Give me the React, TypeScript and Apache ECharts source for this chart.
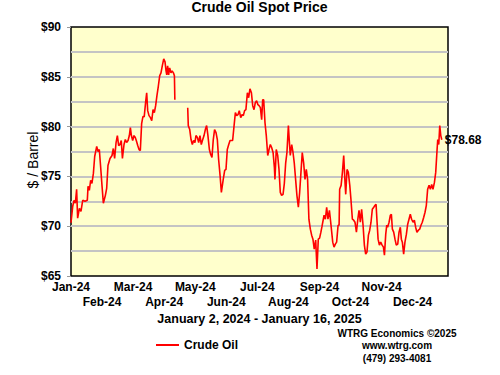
import React, { useEffect, useRef } from 'react';
import * as echarts from 'echarts';

const FONT = '"Liberation Sans", Arial, Helvetica, sans-serif';

const monthLabels = ['Jan-24', 'Feb-24', 'Mar-24', 'Apr-24', 'May-24', 'Jun-24', 'Jul-24', 'Aug-24', 'Sep-24', 'Oct-24', 'Nov-24', 'Dec-24'];
const monthStep = 21.5; // trading days between month labels
const dayMax = 261;

const priceMin = 65;
const priceMax = 90;
const priceStep = 5;

// trading-day position (0 = Jan 2, 2024) and WTI spot price ($/bbl); null = missing data
const tradingDay = [
  0, 1.2, 2.1, 3.0, 3.9, 4.6, 5.8, 6.9, 8.1, 9.7, 11.3, 11.8, 12.7, 13.6, 14.5, 15.5, 16.4, 17.8, 18.7, 19.6,
  20.5, 21.5, 22.4, 23.8, 24.7, 25.6, 27.0, 28.4, 29.3, 30.2, 31.2, 32.1, 33.0, 33.9, 34.8, 35.6, 36.7, 37.6, 38.5, 39.5,
  40.4, 41.1, 41.8, 42.7, 43.6, 44.5, 45.2, 46.2, 47.1, 48.0, 48.9, 49.8, 50.7, 51.7, 52.4, 53.1, 54.0, 55.0, 55.9, 56.8,
  57.7, 58.6, 59.5, 60.5, 61.4, 62.3, 63.2, 64.2, 65.1, 65.8, 66.3, 66.9, 67.6, 68.3, 69.2, 70.0, 70.9, 71.6, 71.9, 76,
  80.8, 81.2, 82.2, 83.1, 84.0, 84.9, 85.8, 86.5, 87.5, 88.4, 89.3, 90.2, 91.2, 92.1, 93.0, 93.9, 94.8, 95.8, 96.7, 97.6,
  98.5, 99.4, 100.4, 101.3, 102.2, 103.2, 104.1, 105.4, 106.4, 107.3, 108.2, 109.2, 110.1, 111.0, 111.9, 112.9, 113.8, 114.7, 115.6, 116.5,
  117.5, 118.4, 119.3, 120.2, 121.1, 122.1, 123.0, 123.9, 124.9, 125.8, 126.7, 127.6, 128.5, 129.4, 130.2, 131.1, 132.0, 132.7, 133.4, 134.3,
  135.2, 136.2, 137.1, 138.0, 138.9, 139.9, 140.8, 141.2, 142.1, 143.1, 144.0, 144.9, 145.8, 146.8, 147.7, 148.6, 149.5, 150.5, 150.9, 151.8,
  152.8, 153.7, 154.6, 155.5, 156.4, 157.4, 158.3, 159.2, 160.1, 161.1, 162.0, 162.9, 163.8, 164.7, 165.7, 166.6, 167.5, 168.4, 169.4, 170.3,
  171.2, 172.1, 173.0, 173.8, 175.2, 176.1, 177.0, 177.9, 178.9, 179.8, 181.2, 182.1, 183.0, 183.9, 184.9, 185.6, 186.0, 187.0, 187.9, 188.8,
  189.7, 190.2, 191.1, 192.0, 193.0, 193.8, 194.8, 195.7, 196.6, 197.6, 198.5, 199.4, 200.3, 201.2, 202.2, 203.1, 204.0, 204.9, 205.9, 206.8,
  207.7, 208.6, 209.6, 210.5, 211.2, 211.9, 212.6, 213.5, 214.4, 215.4, 216.3, 217.0, 217.9, 218.6, 219.2, 220.2, 221.1, 221.8, 222.5, 223.4,
  224.3, 225.2, 226.2, 227.1, 228.0, 228.7, 229.4, 230.3, 231.2, 232.2, 233.1, 234.0, 234.9, 235.8, 236.8, 237.7, 238.6, 239.5, 240.5, 241.4,
  242.3, 243.2, 244.2, 245.1, 246.0, 246.9, 247.9, 248.8, 249.7, 250.6, 251.6, 252.5, 253.4, 253.9, 254.6, 255.3, 256.0, 256.7,
];

const price: (number | null)[] = [
  70.35, 72.0, 72.6, 72.3, 73.7, 70.8, 71.8, 71.5, 72.6, 72.5, 72.6, 74.0, 73.6, 74.6, 74.3, 75.3, 77.0, 78.0, 77.5, 77.7,
  76.0, 74.0, 72.3, 73.1, 73.8, 76.1, 76.8, 77.1, 77.8, 76.8, 78.4, 79.1, 78.1, 78.2, 78.6, 76.8, 78.2, 78.7, 78.4, 78.6,
  79.1, 79.9, 79.1, 78.6, 79.1, 78.9, 78.6, 78.1, 77.7, 77.6, 80.3, 81.0, 81.0, 82.5, 83.4, 81.6, 81.1, 80.9, 80.6, 81.7,
  81.4, 82.1, 83.1, 84.1, 85.1, 85.4, 86.1, 86.8, 86.5, 85.6, 85.2, 86.1, 85.2, 85.9, 85.4, 85.6, 85.4, 85.1, 82.7, null,
  81.9, 80.1, 79.7, 78.7, 78.2, 78.6, 78.4, 79.1, 78.9, 78.4, 79.1, 78.2, 78.7, 79.1, 79.7, 80.1, 79.1, 77.7, 77.2, 76.9,
  78.7, 79.7, 79.4, 78.7, 76.7, 75.1, 73.4, 74.7, 75.6, 75.7, 77.7, 78.2, 78.6, 78.6, 78.6, 80.1, 81.4, 81.1, 81.2, 81.6,
  80.9, 81.2, 81.1, 81.6, 81.7, 83.4, 82.9, 83.8, 83.4, 82.1, 81.7, 82.4, 82.6, 82.2, 82.1, 81.9, 80.7, 82.7, 82.7, 80.4,
  79.1, 77.1, 77.7, 78.2, 77.9, 77.4, 75.9, 74.7, 77.7, 77.1, 75.7, 73.4, 73.1, 73.2, 74.3, 76.3, 77.4, 80.1, 79.1, 77.1,
  78.2, 77.4, 76.3, 74.7, 73.1, 71.9, 73.4, 75.4, 77.4, 76.3, 74.7, 75.7, 74.7, 70.7, 69.7, 69.1, 68.7, 67.7, 68.6, 65.7,
  68.7, 68.8, 69.4, 70.0, 71.1, 70.7, 71.9, 70.7, 71.6, 70.4, 68.4, 67.9, 68.2, 68.4, 70.1, 70.1, 73.7, 74.1, 75.4, 77.1,
  74.4, 73.2, 75.7, 75.4, 74.1, 72.7, 70.7, 70.6, 70.4, 69.4, 70.6, 71.6, 70.4, 71.7, 70.1, 68.1, 67.2, 67.4, 69.1, 69.6,
  70.4, 71.7, 71.9, 72.1, 72.2, 70.4, 68.7, 68.1, 68.4, 68.1, 67.9, 67.1, 69.2, 70.1, 69.9, 70.4, 71.1, 71.2, 69.7, 69.4,
  68.7, 68.1, 68.2, 69.4, 69.9, 68.7, 68.4, 67.2, 68.4, 69.2, 70.2, 70.7, 71.2, 70.7, 70.4, 70.6, 69.9, 69.4, 69.6, 69.7,
  70.1, 70.4, 70.9, 71.4, 72.1, 73.7, 74.1, 73.7, 74.2, 73.7, 74.4, 75.4, 77.6, 78.7, 78.2, 80.1, 79.1, 78.68,
];

const titleText = 'Crude Oil Spot Price';
const dateRangeText = 'January 2, 2024 - January 16, 2025';
const yAxisTitle = '$ / Barrel';
const seriesName = 'Crude Oil';
const creditLines = ['WTRG Economics ©2025', 'www.wtrg.com', '(479) 293-4081'];

// label row: 0 = upper row (even months), 1 = lower row (odd months)
const monthAxis = (row: number, offset: number) => ({
  type: 'value',
  position: 'bottom',
  offset,
  min: 0,
  max: dayMax,
  interval: monthStep,
  axisLine: { show: false },
  axisTick: { show: false },
  splitLine: { show: false },
  axisLabel: {
    margin: 5,
    color: '#000',
    fontFamily: FONT,
    fontWeight: 'bold',
    fontSize: 12,
    showMinLabel: true,
    showMaxLabel: true,
    formatter: (v: number) => {
      const k = Math.round(v / monthStep);
      if (Math.abs(v - k * monthStep) > 0.01 || k < 0 || k >= monthLabels.length) return '';
      return k % 2 === row ? monthLabels[k] : '';
    },
  },
});

export default function App() {
  const ref = useRef<HTMLDivElement>(null);

  useEffect(() => {
    if (!ref.current) return;
    const chart = echarts.init(ref.current, null, { renderer: 'svg' });
    const data = tradingDay.map((d, i) => [d, price[i] === null ? '-' : price[i]]);
    const last = price[price.length - 1] as number;

    chart.setOption({
      animation: false,
      backgroundColor: '#FFFFFF',
      textStyle: { fontFamily: FONT },
      grid: {
        left: 71,
        top: 27,
        width: 377,
        height: 249,
        show: true,
        backgroundColor: '#FFFFCC',
        borderColor: '#000000',
        borderWidth: 1.5,
      },
      xAxis: [monthAxis(0, 0), monthAxis(1, 15)],
      yAxis: {
        type: 'value',
        min: priceMin,
        max: priceMax,
        interval: priceStep,
        axisLine: { show: false },
        axisTick: { show: true, length: 4, lineStyle: { color: '#999999', width: 1 } },
        axisLabel: {
          margin: 10,
          color: '#000',
          fontFamily: FONT,
          fontWeight: 'bold',
          fontSize: 12,
          formatter: (v: number) => '$' + v,
        },
        splitLine: {
          show: true,
          showMinLine: false,
          showMaxLine: false,
          lineStyle: { color: '#C4C4C4', width: 2 },
        },
        minorTick: { show: false, splitNumber: 2 },
        minorSplitLine: { show: true, lineStyle: { color: '#C4C4C4', width: 2 } },
      },
      legend: {
        left: 151,
        top: 334,
        icon: 'rect',
        itemWidth: 23,
        itemHeight: 2,
        itemGap: 10,
        textStyle: { color: '#000', fontFamily: FONT, fontWeight: 'bold', fontSize: 12 },
        data: [seriesName],
      },
      series: [
        {
          name: seriesName,
          type: 'line',
          xAxisIndex: 0,
          data,
          showSymbol: false,
          connectNulls: false,
          lineStyle: { color: '#FF0000', width: 1.6 },
          itemStyle: { color: '#FF0000' },
          endLabel: {
            show: true,
            distance: 3,
            color: '#000',
            fontFamily: FONT,
            fontWeight: 'bold',
            fontSize: 12,
            formatter: () => '$' + last.toFixed(2),
          },
        },
      ],
      graphic: [
        {
          type: 'text',
          x: 259.5,
          y: 7,
          style: { text: titleText, fill: '#000', font: `bold 14px ${FONT}`, textAlign: 'center', textVerticalAlign: 'middle' },
        },
        {
          type: 'text',
          x: 33,
          y: 160,
          rotation: Math.PI / 2,
          style: { text: yAxisTitle, fill: '#000', font: `14px ${FONT}`, textAlign: 'center', textVerticalAlign: 'middle' },
        },
        {
          type: 'text',
          x: 259.5,
          y: 318.5,
          style: { text: dateRangeText, fill: '#000', font: `bold 12.5px ${FONT}`, textAlign: 'center', textVerticalAlign: 'middle' },
        },
        ...creditLines.map((t, i) => ({
          type: 'text',
          x: 397,
          y: 333 + i * 12.8,
          style: { text: t, fill: '#000', font: `bold 10px ${FONT}`, textAlign: 'center', textVerticalAlign: 'middle' },
        })),
      ],
    });

    return () => chart.dispose();
  }, []);

  return <div ref={ref} style={{ position: 'fixed', left: 0, top: 0, width: 500, height: 375 }} />;
}
